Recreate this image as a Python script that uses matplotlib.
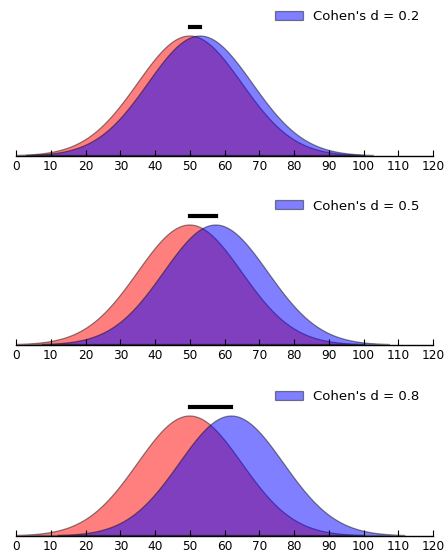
import numpy as np
import matplotlib
matplotlib.use("Agg")
import matplotlib.pyplot as plt

effect_sizes = [0.2, 0.5, 0.8]
mean_control = 50
sd = 15
x_ticks = [0, 10, 20, 30, 40, 50, 60, 70, 80, 90, 100, 110, 120]

def pdf(x, m, s):
    return np.exp(-0.5 * ((x - m) / s) ** 2) / (s * np.sqrt(2 * np.pi))

fig = plt.figure(figsize=(4.45, 5.55), dpi=100)
W, H = 445, 555
left, right = 16 / W, 433 / W
bottoms_px = [156, 345, 536]
ax_h_px = 150

for d, bpx in zip(effect_sizes, bottoms_px):
    ax = fig.add_axes([left, 1 - bpx / H, right - left, ax_h_px / H])
    mean_treat = mean_control + d * sd
    x1 = np.linspace(mean_control - 50, mean_control + 50, 400)
    x2 = np.linspace(mean_treat - 50, mean_treat + 50, 400)
    ax.fill(x1, pdf(x1, mean_control, sd), facecolor=(1, 0, 0, 0.5),
            edgecolor=(0, 0, 0, 0.45), linewidth=0.9)
    ax.fill(x2, pdf(x2, mean_treat, sd), facecolor=(0, 0, 1, 0.5),
            edgecolor=(0, 0, 0, 0.45), linewidth=0.9, label=f"Cohen's d = {d}")
    peak = pdf(mean_control, mean_control, sd)
    ax.plot([mean_control, mean_treat], [peak * 1.073, peak * 1.073], color='black',
            linewidth=3, solid_capstyle='projecting')
    ax.set_xlim(0, 120)
    ax.set_ylim(0, peak * ax_h_px / 120)
    ax.set_xticks(x_ticks)
    ax.set_yticks([])
    for s in ['left', 'right', 'top']:
        ax.spines[s].set_visible(False)
    ax.spines['bottom'].set_linewidth(1.0)
    ax.tick_params(axis='x', direction='in', length=4, labelsize=8.7, pad=3, top=False)
    ax.legend(loc='center right', frameon=False, fontsize=9.5, handlelength=2.1,
              handleheight=0.68, handletextpad=0.76, borderaxespad=0.0,
              bbox_to_anchor=((424.3 - 16) / 417, 139 / ax_h_px))

fig.savefig("out.png", dpi=100)
